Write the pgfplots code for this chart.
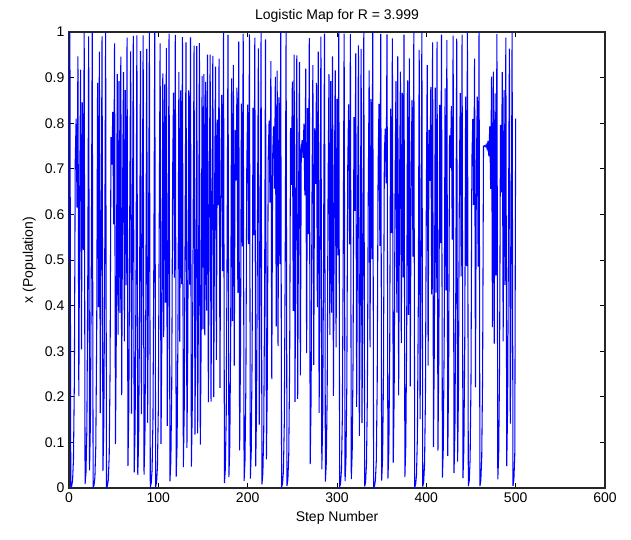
\documentclass[border=0pt]{standalone}
\usepackage{fontspec}
\setmainfont{Liberation Sans}
\usepackage{pgfplots}
\pgfplotsset{compat=1.18}
\begin{document}
\begin{tikzpicture}[font=\fontsize{10.5}{12}\selectfont]
\begin{axis}[
  scale only axis,
  width=402pt, height=342pt,
  xmin=0, xmax=600, ymin=0, ymax=1,
  xtick={0,100,200,300,400,500,600},
  ytick={0,0.1,0.2,0.3,0.4,0.5,0.6,0.7,0.8,0.9,1},
  tick align=inside,
  major tick length=4pt,
  tick style={black, line width=0.5pt},
  axis line style={black!85, line width=0.8pt},
  /pgf/number format/assume math mode=true,
  yticklabel style={/pgf/number format/fixed, /pgf/number format/precision=1},
  title={Logistic Map for R = 3.999},
  xlabel={Step Number},
  ylabel={x (Population)},
  title style={yshift=-2pt},
  clip=true,
]
\addplot[blue, line width=0.8pt] coordinates {
(0,0.5000)(1,0.9998)(2,0.0010)(3,0.0040)(4,0.0159)(5,0.0625)(6,0.2345)(7,0.7178)(8,0.8101)(9,0.6151)
(10,0.9468)(11,0.2016)(12,0.6437)(13,0.9172)(14,0.3038)(15,0.8458)(16,0.5216)(17,0.9979)(18,0.0085)(19,0.0336)
(20,0.1297)(21,0.4513)(22,0.9903)(23,0.0386)(24,0.1484)(25,0.5055)(26,0.9996)(27,0.0015)(28,0.0059)(29,0.0235)
(30,0.0917)(31,0.3331)(32,0.8883)(33,0.3968)(34,0.9572)(35,0.1640)(36,0.5482)(37,0.9905)(38,0.0378)(39,0.1456)
(40,0.4974)(41,0.9997)(42,0.0011)(43,0.0045)(44,0.0178)(45,0.0699)(46,0.2601)(47,0.7695)(48,0.7092)(49,0.8247)
(50,0.5782)(51,0.9753)(52,0.0963)(53,0.3480)(54,0.9074)(55,0.3361)(56,0.8923)(57,0.3843)(58,0.9462)(59,0.2035)
(60,0.6483)(61,0.9118)(62,0.3216)(63,0.8724)(64,0.4451)(65,0.9877)(66,0.0486)(67,0.1850)(68,0.6029)(69,0.9574)
(70,0.1631)(71,0.5458)(72,0.9914)(73,0.0342)(74,0.1320)(75,0.4581)(76,0.9927)(77,0.0288)(78,0.1119)(79,0.3975)
(80,0.9578)(81,0.1618)(82,0.5423)(83,0.9926)(84,0.0294)(85,0.1140)(86,0.4039)(87,0.9628)(88,0.1431)(89,0.4904)
(90,0.9994)(91,0.0025)(92,0.0099)(93,0.0391)(94,0.1504)(95,0.5110)(96,0.9993)(97,0.0029)(98,0.0116)(99,0.0460)
(100,0.1754)(101,0.5784)(102,0.9752)(103,0.0967)(104,0.3494)(105,0.9090)(106,0.3308)(107,0.8852)(108,0.4064)(109,0.9647)
(110,0.1363)(111,0.4707)(112,0.9963)(113,0.0147)(114,0.0579)(115,0.2182)(116,0.6822)(117,0.8670)(118,0.4611)(119,0.9937)
(120,0.0250)(121,0.0975)(122,0.3518)(123,0.9119)(124,0.3211)(125,0.8718)(126,0.4469)(127,0.9885)(128,0.0456)(129,0.1740)
(130,0.5747)(131,0.9775)(132,0.0881)(133,0.3213)(134,0.8721)(135,0.4461)(136,0.9882)(137,0.0468)(138,0.1785)(139,0.5864)
(140,0.9699)(141,0.1168)(142,0.4124)(143,0.9690)(144,0.1200)(145,0.4222)(146,0.9756)(147,0.0954)(148,0.3450)(149,0.9036)
(150,0.3483)(151,0.9077)(152,0.3349)(153,0.8908)(154,0.3890)(155,0.9504)(156,0.1884)(157,0.6114)(158,0.9501)(159,0.1896)
(160,0.6144)(161,0.9475)(162,0.1991)(163,0.6377)(164,0.9240)(165,0.2810)(166,0.8080)(167,0.6205)(168,0.9417)(169,0.2197)
(170,0.6856)(171,0.8621)(172,0.4755)(173,0.9974)(174,0.0106)(175,0.0418)(176,0.1602)(177,0.5381)(178,0.9939)(179,0.0241)
(180,0.0940)(181,0.3406)(182,0.8982)(183,0.3657)(184,0.9277)(185,0.2684)(186,0.7852)(187,0.6744)(188,0.8781)(189,0.4279)
(190,0.9790)(191,0.0823)(192,0.3019)(193,0.8428)(194,0.5299)(195,0.9962)(196,0.0153)(197,0.0601)(198,0.2259)(199,0.6993)
(200,0.8409)(201,0.5350)(202,0.9948)(203,0.0206)(204,0.0806)(205,0.2962)(206,0.8337)(207,0.5544)(208,0.9879)(209,0.0477)
(210,0.1817)(211,0.5947)(212,0.9639)(213,0.1391)(214,0.4788)(215,0.9980)(216,0.0081)(217,0.0323)(218,0.1250)(219,0.4373)
(220,0.9840)(221,0.0629)(222,0.2357)(223,0.7203)(224,0.8057)(225,0.6261)(226,0.9362)(227,0.2390)(228,0.7274)(229,0.7929)
(230,0.6566)(231,0.9017)(232,0.3545)(233,0.9151)(234,0.3109)(235,0.8567)(236,0.4910)(237,0.9994)(238,0.0023)(239,0.0092)
(240,0.0366)(241,0.1412)(242,0.4848)(243,0.9988)(244,0.0047)(245,0.0186)(246,0.0730)(247,0.2706)(248,0.7893)(249,0.6650)
(250,0.8909)(251,0.3887)(252,0.9502)(253,0.1891)(254,0.6132)(255,0.9485)(256,0.1952)(257,0.6283)(258,0.9339)(259,0.2469)
(260,0.7435)(261,0.7627)(262,0.7239)(263,0.7993)(264,0.6416)(265,0.9196)(266,0.2956)(267,0.8328)(268,0.5570)(269,0.9868)
(270,0.0522)(271,0.1979)(272,0.6348)(273,0.9271)(274,0.2702)(275,0.7885)(276,0.6669)(277,0.8884)(278,0.3966)(279,0.9570)
(280,0.1647)(281,0.5502)(282,0.9897)(283,0.0408)(284,0.1567)(285,0.5283)(286,0.9966)(287,0.0138)(288,0.0542)(289,0.2051)
(290,0.6520)(291,0.9074)(292,0.3360)(293,0.8922)(294,0.3847)(295,0.9466)(296,0.2021)(297,0.6450)(298,0.9157)(299,0.3086)
(300,0.8533)(301,0.5100)(302,0.9994)(303,0.0026)(304,0.0104)(305,0.0410)(306,0.1572)(307,0.5299)(308,0.9962)(309,0.0153)
(310,0.0601)(311,0.2258)(312,0.6991)(313,0.8412)(314,0.5343)(315,0.9951)(316,0.0196)(317,0.0769)(318,0.2839)(319,0.8131)
(320,0.6078)(321,0.9533)(322,0.1781)(323,0.5854)(324,0.9706)(325,0.1141)(326,0.4043)(327,0.9631)(328,0.1422)(329,0.4878)
(330,0.9992)(331,0.0034)(332,0.0135)(333,0.0534)(334,0.2021)(335,0.6449)(336,0.9158)(337,0.3083)(338,0.8528)(339,0.5019)
(340,0.9997)(341,0.0011)(342,0.0043)(343,0.0172)(344,0.0600)(345,0.2255)(346,0.6984)(347,0.8424)(348,0.5309)(349,0.9959)
(350,0.0163)(351,0.0642)(352,0.2403)(353,0.7301)(354,0.7880)(355,0.6681)(356,0.9949)(357,0.0205)(358,0.0803)(359,0.2952)
(360,0.8320)(361,0.5589)(362,0.9859)(363,0.0557)(364,0.2102)(365,0.6640)(366,0.8923)(367,0.3844)(368,0.9463)(369,0.2031)
(370,0.6473)(371,0.9130)(372,0.3176)(373,0.8667)(374,0.4621)(375,0.9940)(376,0.0238)(377,0.0930)(378,0.3372)(379,0.8937)
(380,0.3799)(381,0.9421)(382,0.2230)(383,0.6929)(384,0.8509)(385,0.5073)(386,0.9995)(387,0.0018)(388,0.0073)(389,0.0291)
(390,0.1131)(391,0.4012)(392,0.9608)(393,0.1508)(394,0.5121)(395,0.9992)(396,0.0033)(397,0.0132)(398,0.0522)(399,0.1977)
(400,0.6343)(401,0.9276)(402,0.2686)(403,0.7856)(404,0.6736)(405,0.8792)(406,0.4248)(407,0.9771)(408,0.0894)(409,0.3256)
(410,0.8781)(411,0.4282)(412,0.9791)(413,0.0818)(414,0.3002)(415,0.8402)(416,0.5370)(417,0.9943)(418,0.0228)(419,0.0890)
(420,0.3243)(421,0.8763)(422,0.4335)(423,0.9821)(424,0.0705)(425,0.2619)(426,0.7731)(427,0.7015)(428,0.8374)(429,0.5446)
(430,0.9918)(431,0.0325)(432,0.1258)(433,0.4399)(434,0.9853)(435,0.0580)(436,0.2185)(437,0.6828)(438,0.8661)(439,0.4639)
(440,0.9945)(441,0.0218)(442,0.0853)(443,0.3120)(444,0.8583)(445,0.4863)(446,0.9990)(447,0.0040)(448,0.0159)(449,0.0626)
(450,0.2347)(451,0.7183)(452,0.8092)(453,0.6208)(454,0.9414)(455,0.2207)(456,0.6879)(457,0.8585)(458,0.4857)(459,0.9989)
(460,0.0043)(461,0.0170)(462,0.0668)(463,0.2499)(464,0.7496)(465,0.7506)(466,0.7485)(467,0.7527)(468,0.7443)(469,0.7610)
(470,0.7273)(471,0.7931)(472,0.6562)(473,0.9022)(474,0.3530)(475,0.9133)(476,0.3166)(477,0.8652)(478,0.4665)(479,0.9953)
(480,0.0189)(481,0.0742)(482,0.2745)(483,0.7965)(484,0.6483)(485,0.9119)(486,0.3214)(487,0.8723)(488,0.4456)(489,0.9879)
(490,0.0478)(491,0.1820)(492,0.5954)(493,0.9634)(494,0.1411)(495,0.4847)(496,0.9988)(497,0.0047)(498,0.0186)(499,0.0730)
(500,0.8100)
};
\end{axis}
\pgfresetboundingbox
\path (-51.75pt,-38.25pt) rectangle (421.5pt,366pt);
\end{tikzpicture}
\end{document}
